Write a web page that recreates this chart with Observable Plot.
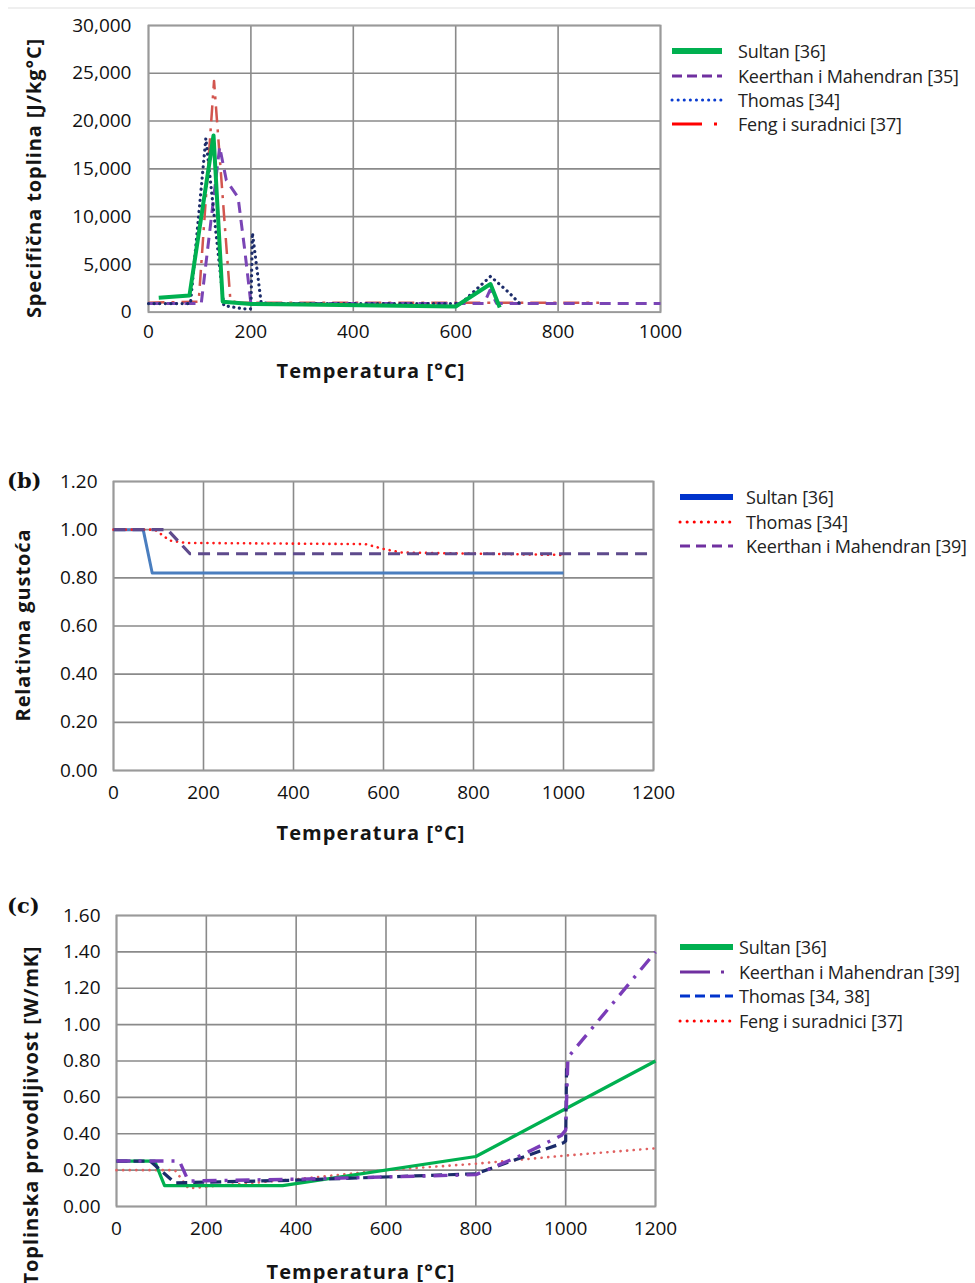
<!DOCTYPE html>
<html><head><meta charset="utf-8">
<script src="https://cdn.jsdelivr.net/npm/d3@7"></script>
<script src="https://cdn.jsdelivr.net/npm/@observablehq/plot@0.6"></script>
<style>
body{margin:0;background:#fff;width:975px;height:1283px;position:relative;overflow:hidden;font-family:"Open Sans",sans-serif;}
.abs{position:absolute}
.xtitle{position:absolute;font-weight:700;font-size:20px;letter-spacing:1.1px;color:#151515;white-space:nowrap;transform:translate(-50%,-50%)}
.ytitle{position:absolute;font-weight:700;font-size:20px;letter-spacing:0.9px;color:#151515;white-space:nowrap;transform:translate(-50%,-50%) rotate(-90deg)}
.tag{position:absolute;font-family:"DejaVu Serif","Liberation Serif",serif;font-weight:700;font-size:21px;color:#111}
.lg{position:absolute;font-size:18px;letter-spacing:-0.2px;color:#222;white-space:nowrap;transform:translateY(-50%)}
.topline{position:absolute;left:8px;top:7px;width:967px;height:2px;background:#efefef}
</style></head><body>
<div class="topline"></div>
<div id="pa" class="abs" style="left:0;top:0"></div>
<div id="pb" class="abs" style="left:0;top:440px"></div>
<div id="pc" class="abs" style="left:0;top:880px"></div>
<script>
// ---------- data (temperature °C, value) ----------
const xTicksA = [0, 200, 400, 600, 800, 1000];
const yTicksA = [0, 5000, 10000, 15000, 20000, 25000, 30000];
const aSultan = [[20,1500],[80,1750],[127,18500],[145,1100],[200,850],[300,800],[600,600],[668,2950],[686,500]];
const aKeerthan = [[0,900],[103,900],[139,17300],[152,13800],[175,12000],[188,6500],[200,900],[655,900],[667,2300],[680,900],[1000,900]];
const aThomas = [[0,900],[82,900],[112,18200],[147,700],[185,350],[200,350],[203,8300],[220,1000],[240,900],[610,900],[668,3750],[705,2000],[725,900]];
const aFeng = [[0,1000],[98,1100],[128,24200],[160,1200],[175,1000],[880,1000]];

const xTicksB = [0, 200, 400, 600, 800, 1000, 1200];
const yTicksB = [0, 0.2, 0.4, 0.6, 0.8, 1.0, 1.2];
const bSultan = [[0,1],[66,1],[86,0.82],[1000,0.82]];
const bThomas = [[0,1],[92,1],[125,0.955],[160,0.945],[560,0.94],[600,0.92],[640,0.905],[1000,0.895]];
const bKeerthan = [[0,1],[120,1],[170,0.9],[1200,0.9]];

const xTicksC = [0, 200, 400, 600, 800, 1000, 1200];
const yTicksC = [0, 0.2, 0.4, 0.6, 0.8, 1.0, 1.2, 1.4, 1.6];
const cSultan = [[0,0.25],[85,0.25],[107,0.115],[370,0.115],[800,0.275],[1200,0.8]];
const cKeerthan = [[0,0.25],[140,0.25],[160,0.14],[400,0.15],[800,0.175],[900,0.28],[990,0.39],[1000,0.42],[1005,0.82],[1200,1.4]];
const cThomas = [[0,0.25],[75,0.25],[130,0.13],[400,0.145],[800,0.18],[995,0.35],[1000,0.36],[1002,0.76]];
const cFeng = [[0,0.2],[130,0.2],[160,0.1],[400,0.15],[600,0.2],[800,0.235],[1000,0.28],[1200,0.32]];

const labelsA = ["Sultan [36]", "Keerthan i Mahendran [35]", "Thomas [34]", "Feng i suradnici [37]"];
const labelsB = ["Sultan [36]", "Thomas [34]", "Keerthan i Mahendran [39]"];
const labelsC = ["Sultan [36]", "Keerthan i Mahendran  [39]", "Thomas [34, 38]", "Feng i suradnici [37]"];

// ---------- styles ----------
const GREEN = "#00b050", PURPLE = "#7a45b5", NAVY = "#1c2c6a", RED = "#d2554e";
const styleA = [
  {data: aFeng, stroke: RED, w: 2.5, dash: "16,7,3,7"},
  {data: aKeerthan, stroke: PURPLE, w: 3, dash: "11,7"},
  {data: aThomas, stroke: NAVY, w: 3.2, dash: "0.1,5.5", cap: "round"},
  {data: aSultan, stroke: GREEN, w: 4}
];
const styleB = [
  {data: bSultan, stroke: "#4a7ebf", w: 3},
  {data: bThomas, stroke: "#ff1a1a", w: 2.6, dash: "0.1,6", cap: "round"},
  {data: bKeerthan, stroke: "#5e4a8c", w: 3.2, dash: "12,7"}
];
const styleC = [
  {data: cFeng, stroke: "#e06060", w: 2.6, dash: "0.1,6.5", cap: "round"},
  {data: cSultan, stroke: GREEN, w: 3.2},
  {data: cThomas, stroke: NAVY, w: 3.2, dash: "11,6"},
  {data: cKeerthan, stroke: "#7a3cb8", w: 3.4, dash: "14,8,3,8"}
];

function panel(o) {
  const marks = [
    Plot.gridX({ticks: o.xTicks, stroke: "#8a8a8a", strokeOpacity: 1, strokeWidth: 1.6}),
    Plot.gridY({ticks: o.yTicks, stroke: "#8a8a8a", strokeOpacity: 1, strokeWidth: 1.6}),
    Plot.frame({stroke: "#9a9a9a", strokeWidth: 1.8}),
    Plot.axisX({ticks: o.xTicks, tickSize: 0, tickPadding: o.xPad, tickFormat: d3.format("d"), label: null, fontSize: 19}),
    Plot.axisY({ticks: o.yTicks, tickSize: 0, tickPadding: o.yPad, tickFormat: o.yFormat, label: null, fontSize: 19}),
    ...o.series.map(s => Plot.line(s.data, {x: d => d[0], y: d => d[1], stroke: s.stroke, strokeWidth: s.w,
      strokeDasharray: s.dash, strokeLinecap: s.cap || "butt", strokeLinejoin: "round"}))
  ];
  return Plot.plot({
    width: o.width, height: o.height,
    marginLeft: o.mL, marginRight: o.mR, marginTop: o.mT, marginBottom: o.mB,
    x: {domain: o.xDomain, label: null},
    y: {domain: o.yDomain, label: null},
    style: {fontFamily: "'Open Sans', sans-serif", fontSize: "19px", color: "#111", background: "transparent", overflow: "visible"},
    marks
  });
}

document.getElementById("pa").append(panel({
  width: 700, height: 360, mL: 148, mR: 40, mT: 25, mB: 48.3,
  xDomain: [0, 1000], yDomain: [0, 30000], xTicks: xTicksA, yTicks: yTicksA,
  yFormat: d3.format(","), xPad: 12, yPad: 17, series: styleA
}));
document.getElementById("pb").append(panel({
  width: 700, height: 380, mL: 113, mR: 47, mT: 41, mB: 50,
  xDomain: [0, 1200], yDomain: [0, 1.2], xTicks: xTicksB, yTicks: yTicksB,
  yFormat: d3.format(".2f"), xPad: 15, yPad: 16, series: styleB
}));
document.getElementById("pc").append(panel({
  width: 700, height: 370, mL: 116, mR: 45, mT: 35, mB: 44,
  xDomain: [0, 1200], yDomain: [0, 1.6], xTicks: xTicksC, yTicks: yTicksC,
  yFormat: d3.format(".2f"), xPad: 15, yPad: 16, series: styleC
}));

// ---------- titles ----------
function addDiv(cls, text, x, y) {
  const d = document.createElement("div");
  d.className = cls; d.textContent = text;
  d.style.left = x + "px"; d.style.top = y + "px";
  document.body.append(d);
  return d;
}
addDiv("xtitle", "Temperatura [°C]", 371, 370);
addDiv("ytitle", "Specifična toplina [J/kg°C]", 33, 178);
addDiv("xtitle", "Temperatura [°C]", 371, 832);
addDiv("ytitle", "Relativna gustoća", 22, 625);
addDiv("xtitle", "Temperatura [°C]", 361, 1271);
addDiv("ytitle", "Toplinska provodljivost [W/mK]", 30, 1115);
addDiv("tag", "(b)", 7, 468);
addDiv("tag", "(c)", 7, 893);

// ---------- legends ----------
function legend(labels, swatches, x0, x1, xt, ys) {
  labels.forEach((lab, i) => {
    const s = swatches[i];
    const svg = d3.select(document.body).append("svg")
      .attr("width", x1 - x0 + 4).attr("height", 12)
      .style("position", "absolute").style("left", (x0 - 2) + "px").style("top", (ys[i] - 6) + "px");
    svg.append("line").attr("x1", 2).attr("x2", x1 - x0 + 2).attr("y1", 6).attr("y2", 6)
      .attr("stroke", s.stroke).attr("stroke-width", s.w)
      .attr("stroke-dasharray", s.dash || null).attr("stroke-linecap", s.cap || "butt");
    addDiv("lg", lab, xt, ys[i]);
  });
}
legend(labelsA, [
  {stroke: GREEN, w: 6},
  {stroke: "#7030a0", w: 3, dash: "10,5"},
  {stroke: "#0a3cd0", w: 3, dash: "0.1,6", cap: "round"},
  {stroke: "#ff0000", w: 3, dash: "30,12,3,20"}
], 672, 722, 738, [51, 76, 100, 124]);
legend(labelsB, [
  {stroke: "#0033cc", w: 6},
  {stroke: "#ff0000", w: 3, dash: "0.1,7", cap: "round"},
  {stroke: "#7030a0", w: 3, dash: "10,6"}
], 680, 733, 746, [497, 522, 546]);
legend(labelsC, [
  {stroke: GREEN, w: 6},
  {stroke: "#7030a0", w: 3, dash: "30,11,3,20"},
  {stroke: "#0033cc", w: 3, dash: "10,5"},
  {stroke: "#ff0000", w: 3, dash: "0.1,7", cap: "round"}
], 680, 733, 739, [947, 972, 996, 1021]);
</script>
</body></html>
